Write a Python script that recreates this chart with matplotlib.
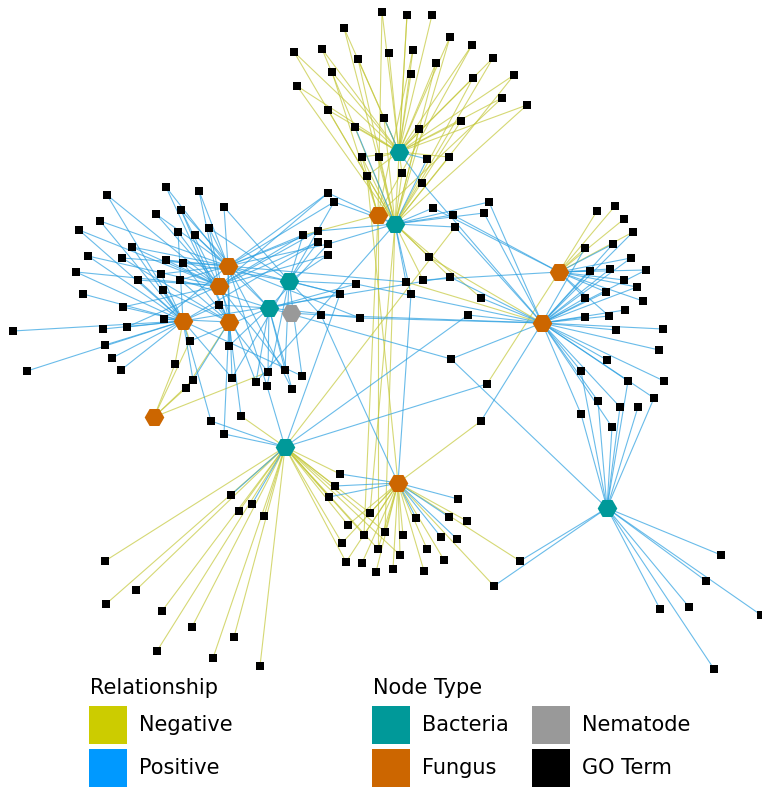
import matplotlib
matplotlib.use("Agg")
import matplotlib.pyplot as plt
from matplotlib.collections import LineCollection
from matplotlib.patches import Rectangle

# taxa (hub) nodes, layout position in image pixels
hub_names = ["B1", "B2", "B3", "B4", "B5", "B6",
             "F1", "F2", "F3", "F4", "F5", "F6", "F7", "F8", "F9", "N1"]
hub_x = [399, 395, 289, 269, 285, 607,
         378, 228, 219, 183, 229, 154, 559, 542, 398, 291]
hub_y = [152, 224, 281, 308, 447, 508,
         215, 266, 286, 321, 322, 417, 272, 323, 483, 313]
hub_type = ["Bacteria"] * 6 + ["Fungus"] * 9 + ["Nematode"]

# GO terms: x, y, links ("-" negative, "+" positive)
go_terms = [
    (382, 12, "B1- F1-"), (407, 15, "B1- B2-"), (432, 15, "B1-"),
    (344, 28, "B1- B2-"), (450, 37, "B1- B2-"), (472, 45, "B1- F1-"),
    (294, 52, "B1- B2-"), (322, 49, "B1- B2-"), (358, 59, "B1- B2-"),
    (389, 53, "B1-"), (413, 50, "B1- F1-"), (436, 63, "B1- B2-"),
    (493, 58, "B1- B2-"), (332, 72, "B1- F1-"), (411, 74, "B1-"),
    (473, 78, "B1- B2-"), (514, 75, "B1- B2-"), (297, 86, "B1- B2-"),
    (502, 98, "B1- F1-"), (527, 105, "B1- B2-"), (328, 110, "B1- B2-"),
    (384, 118, "B1+ B2-"), (355, 127, "B1- B2+"), (419, 129, "B1- B2-"),
    (461, 121, "B1- B2-"), (362, 157, "B1- B2- F1-"), (379, 157, "B1- B2-"),
    (427, 159, "B1+ B2+"), (449, 157, "B1- B2-"), (367, 176, "B1- F1- F9-"),
    (402, 173, "B1- B2-"), (422, 183, "B1+ F8+"),
    (328, 193, "B2+ F2+ F3+"), (334, 202, "B2+ F2+ B3+"),
    (303, 235, "F2+ F3+ B3+ F1-"), (318, 231, "F2+ F3+ B2+"),
    (318, 242, "F3+ F4+ B3+"), (328, 244, "F2+ B4+ B2+"), (328, 255, "F3+ B3+"),
    (489, 202, "B2+ F8+"), (433, 208, "B2+ F7+"), (484, 213, "B2+ F8+"),
    (453, 215, "B2+ F7+"), (455, 227, "B2+ F8+ B5-"), (429, 257, "B2- F8-"),
    (166, 187, "F2+ F5+"), (199, 191, "F2+ F3+"), (107, 195, "F3+ F4+"),
    (224, 207, "F2+ B3+"), (181, 210, "F3+ F5+ B4+"), (156, 214, "F2+ F3+"),
    (100, 221, "F2+ F4+"), (79, 230, "F3+ F4+"), (209, 228, "F2+ F5+ B3+"),
    (178, 232, "F3+ F4+"), (195, 235, "F2+ B4+"), (132, 247, "F2+ F3+ F4+"),
    (88, 256, "F3+ F4+"), (122, 258, "F2+ F5+"), (166, 260, "F2+ F3+ B3+"),
    (183, 263, "F3+ F5+"), (76, 272, "F3+ F4+"), (161, 274, "F2+ F4+"),
    (138, 280, "F3+ F4+"), (180, 280, "F2+ F5+ B4+"), (163, 290, "F4+ F5+"),
    (356, 284, "B3+ B4+ F8+"), (340, 294, "B3+ B4+ F2+ B5+"), (83, 294, "F4+"),
    (123, 307, "F3+ F4+"), (219, 305, "F4+ F5+ B4+"),
    (321, 315, "B3+ N1+ F9+ F8+"), (360, 318, "B4+ F2+ F8+"),
    (164, 319, "F2+ F4+ F5+"), (13, 331, "F4+"), (103, 329, "F4+"),
    (127, 327, "F4+ F3+"), (190, 341, "F4- F6- B4+"), (105, 345, "F4+"),
    (229, 346, "F5+ B4+ F2+"), (112, 358, "F4+"), (121, 370, "F4+"),
    (27, 371, "F4+"), (175, 364, "F6- F4-"), (193, 380, "F6- F5+ F4+"),
    (186, 388, "F6- F5-"), (232, 378, "F4+ B3+ F2+"), (256, 382, "F3+ B4+ B2+"),
    (267, 386, "F2+ B3+ B5+"), (268, 372, "F5+ B4+ F6-"),
    (285, 370, "B3+ B4+ F3+"), (302, 376, "B3+ F4+"), (292, 389, "B4+ F2+"),
    (241, 416, "F5+ B5-"), (211, 421, "F4+ B5+"), (224, 434, "F5+ B5+"),
    (406, 282, "B2+ F8- F2+"), (423, 280, "B2- F7+"), (450, 277, "B2- F8+ F4+"),
    (411, 294, "B2+ F9+"), (481, 298, "F8+ B2-"), (468, 315, "F8+ B5+"),
    (451, 359, "F8+ B6+ B4+"), (487, 384, "F7- B5+"), (481, 421, "F8+ F9-"),
    (597, 211, "F7-"), (615, 206, "F7-"), (624, 219, "F7-"),
    (633, 232, "F7- F8+"), (585, 248, "F7- F8+"), (613, 244, "F7+ F8+"),
    (631, 258, "F7+ F8+"), (590, 271, "F7+ F8+"), (610, 269, "F7+ F8+"),
    (646, 270, "F7+ F8+"), (624, 280, "F7+"), (637, 287, "F7+ F8+"),
    (606, 292, "F7+ F8+"), (585, 298, "F7+ F8+"), (643, 301, "F7+"),
    (625, 310, "F8+"), (585, 317, "F8+"), (609, 316, "F7+ F8+"),
    (616, 330, "F8+"), (663, 329, "F8+"), (659, 350, "F8+"),
    (607, 360, "F8+"), (581, 371, "F8+ B6+"), (628, 381, "F8+ B6+"),
    (664, 381, "F8+"), (654, 398, "F8+ B6+"), (598, 401, "F8+ B6+"),
    (620, 407, "F8+ B6+"), (638, 407, "B6+"), (581, 414, "F8+ B6+"),
    (612, 427, "F8+ B6+"),
    (340, 474, "B5- F9+"), (335, 486, "B5- F9+"), (329, 497, "B5- F9+"),
    (231, 495, "B5+"), (252, 504, "B5+"), (239, 511, "B5-"), (264, 516, "B5-"),
    (458, 499, "F9+"), (370, 513, "F9- B5- B2-"), (416, 518, "F9+"),
    (449, 517, "F9+"), (467, 521, "F9-"), (348, 525, "F9- B5-"),
    (385, 532, "F9- B5- B2-"), (364, 535, "F9- B5- F1-"), (403, 535, "F9-"),
    (441, 537, "F9+"), (457, 539, "F9+"), (342, 543, "F9- B5-"),
    (378, 549, "F9- B5- F1-"), (427, 549, "F9-"), (400, 555, "F9- B5-"),
    (444, 560, "F9-"), (346, 562, "F9- B5-"), (362, 563, "F9-"),
    (393, 569, "F9-"), (376, 572, "F9-"), (424, 571, "F9-"),
    (520, 561, "F9- B6+"), (494, 586, "F9- B6+"),
    (105, 561, "B5-"), (136, 590, "B5-"), (106, 604, "B5-"), (162, 611, "B5-"),
    (192, 627, "B5-"), (234, 637, "B5-"), (157, 651, "B5-"), (213, 658, "B5-"),
    (260, 666, "B5-"),
    (721, 555, "B6+"), (706, 581, "B6+"), (761, 615, "B6+"),
    (660, 609, "B6+"), (689, 607, "B6+"), (714, 669, "B6+"),
]

node_colors = {"Bacteria": "#009999", "Fungus": "#cc6600",
               "Nematode": "#999999", "GO Term": "#000000"}
edge_colors = {"-": "#c4c83a", "+": "#2a9fe0"}

fig = plt.figure(figsize=(7.62, 7.88), dpi=100)
ax = fig.add_axes([0, 0, 1, 1])
ax.set_xlim(0, 762)
ax.set_ylim(788, 0)
ax.axis("off")

hub_pos = {n: (x, y) for n, x, y in zip(hub_names, hub_x, hub_y)}

segs = {"-": [], "+": []}
for gx, gy, links in go_terms:
    for tok in links.split():
        segs[tok[-1]].append([(gx, gy), hub_pos[tok[:-1]]])

for sign in ["-", "+"]:
    lc = LineCollection(segs[sign], colors=edge_colors[sign],
                        linewidths=0.8, alpha=0.7, zorder=1)
    ax.add_collection(lc)

ax.scatter([g[0] for g in go_terms], [g[1] for g in go_terms],
           marker="s", s=28, color="black", zorder=3, linewidths=0)

for t in ["Bacteria", "Fungus", "Nematode"]:
    xs = [x for x, ht in zip(hub_x, hub_type) if ht == t]
    ys = [y for y, ht in zip(hub_y, hub_type) if ht == t]
    ax.scatter(xs, ys, marker="H", s=200, color=node_colors[t],
               zorder=4, linewidths=0)

# legend
fs = 15
ax.text(90, 688, "Relationship", fontsize=fs, va="center", ha="left")
ax.text(373, 688, "Node Type", fontsize=fs, va="center", ha="left")
legend_items = [
    (89, 706, "#cccc00", "Negative"),
    (89, 749, "#0099ff", "Positive"),
    (372, 706, node_colors["Bacteria"], "Bacteria"),
    (372, 749, node_colors["Fungus"], "Fungus"),
    (532, 706, node_colors["Nematode"], "Nematode"),
    (532, 749, node_colors["GO Term"], "GO Term"),
]
for lx, ly, col, lab in legend_items:
    ax.add_patch(Rectangle((lx, ly), 38, 38, color=col, lw=0))
    ax.text(lx + 50, ly + 19, lab, fontsize=fs, va="center", ha="left")

plt.savefig("out.png", dpi=100)
